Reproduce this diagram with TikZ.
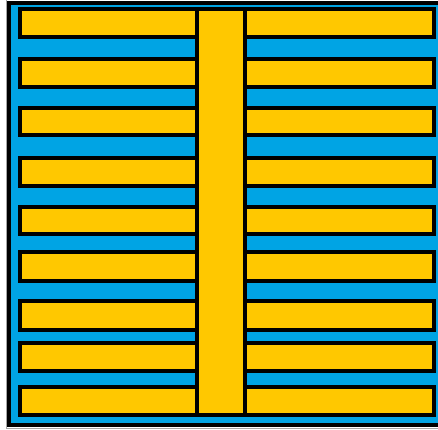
\documentclass[tikz,border=0pt]{standalone}
\definecolor{bgblue}{RGB}{0,164,228}
\definecolor{baryellow}{RGB}{255,200,0}
\tikzset{
  frame/.style={fill=bgblue, draw=black, line width=4.3pt},
  bar/.style={fill=baryellow, draw=black, line width=4.2pt, line join=miter}
}
\begin{document}
\begin{tikzpicture}[x=1pt,y=-1pt]
\useasboundingbox (0,0) rectangle (438,429);
\clip (0,0) rectangle (438,429);
\fill[white] (0,0) rectangle (438,429);
\draw[gray!70, line width=1.5pt] (6.5,0) -- (6.5,428.5) -- (438,428.5);
\draw[frame] (9,2.7) rectangle (442,425);
\foreach \t/\b in {8.7/37, 58.7/87, 108/135.3, 158/186, 206.7/234, 252/280.7, 301.3/329.7, 343/371.3, 387/415.3}{
  \draw[bar] (20.3,\t) rectangle (197,\b);
  \draw[bar] (244.7,\t) rectangle (434.2,\b);
}
\draw[bar] (197,8.7) rectangle (244.7,415.3);
\end{tikzpicture}
\end{document}
